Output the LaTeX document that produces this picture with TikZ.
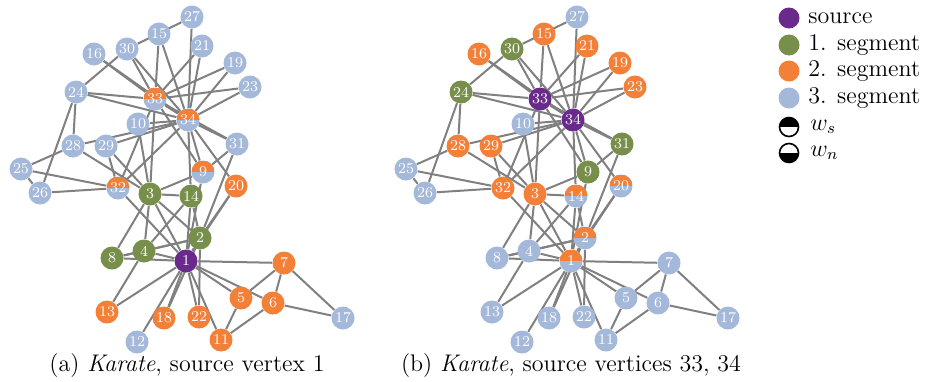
\documentclass[tikz,border=0pt]{standalone}
\usetikzlibrary{backgrounds}
\definecolor{cpurple}{RGB}{106,42,140}
\definecolor{cgreen}{RGB}{120,142,75}
\definecolor{corange}{RGB}{242,128,56}
\definecolor{cblue}{RGB}{164,185,218}
\begin{document}
\begin{tikzpicture}[x=0.5pt,y=-0.5pt,
  vtx/.style={circle,minimum size=11.5pt,inner sep=0pt,text=white,font=\fontsize{7.5}{9}\selectfont},
  src/.style={fill=cpurple},
  sone/.style={fill=cgreen},
  stwo/.style={fill=corange},
  sthree/.style={fill=cblue},
  split/.style={fill=cblue,path picture={\fill[corange] (path picture bounding box.north west) rectangle (path picture bounding box.east);}},
  edge/.style={draw=gray,line width=1pt},
  lgd/.style={circle,minimum size=10.5pt,inner sep=0pt},
  lgdtext/.style={anchor=west,inner sep=0pt,font=\large}]
\useasboundingbox (0,0) rectangle (925,381);
% vertices: number / x / y / style (a) / style (b)
\foreach \n/\x/\y/\sa/\sb in {1/186/261/src/split, 2/200/238/sone/split, 3/150/194/sone/stwo,
  4/144/251/sone/sthree, 5/241/298/stwo/sthree, 6/273/303/stwo/sthree, 7/284/263/stwo/sthree,
  8/112/258/sone/sthree, 9/203/172/split/sone, 10/138/124/sthree/sthree, 11/221/340/stwo/sthree,
  12/137/342/sthree/sthree, 13/107/312/stwo/sthree, 14/191/196/sone/split, 15/159/34/sthree/stwo,
  16/94/54/sthree/stwo, 17/343/318/sthree/sthree, 18/164/318/stwo/sthree, 19/235/63/sthree/stwo,
  20/236/186/stwo/split, 21/202/46/sthree/stwo, 22/199/317/stwo/sthree, 23/250/87/sthree/stwo,
  24/76/92/sthree/sone, 25/21/169/sthree/sthree, 26/40/193/sthree/sthree, 27/192/17/sthree/sthree,
  28/73/146/sthree/stwo, 29/106/146/sthree/stwo, 30/127/49/sthree/sone, 31/237/144/sthree/sone,
  32/118/188/split/stwo, 33/155/99/split/src, 34/188/120/split/src} {
  \node[vtx,\sa] (a\n) at (\x,\y) {\n};
  \node[vtx,\sb] (b\n) at (\x+385,\y) {\n};
}
% edges
\begin{pgfonlayer}{background}
\foreach \g in {a,b} {
  \foreach \u/\v in {1/2,1/3,1/4,1/5,1/6,1/7,1/8,1/9,1/11,1/12,1/13,1/14,1/18,1/20,1/22,1/32,
    2/3,2/4,2/8,2/14,2/18,2/20,2/22,2/31,3/4,3/8,3/9,3/10,3/14,3/28,3/29,3/33,
    4/8,4/13,4/14,5/7,5/11,6/7,6/11,6/17,7/17,9/31,9/33,9/34,
    10/34,14/34,15/33,15/34,16/33,16/34,19/33,19/34,20/34,21/33,21/34,23/33,23/34,
    24/26,24/28,24/30,24/33,24/34,25/26,25/28,25/32,26/32,27/30,27/34,28/34,
    29/32,29/34,30/33,30/34,31/33,31/34,32/33,32/34,33/34}
    \draw[edge] (\g\u) -- (\g\v);
}
\end{pgfonlayer}
% captions
\node[font=\large] (capa) at (187,366) {(a) \textit{Karate}, source vertex 1};
\node[font=\large] (capb) at (571,366) {(b) \textit{Karate}, source vertices 33, 34};
% legend
\node[lgd,src] (lsrc) at (789,18) {};
\node[lgd,sone] (lone) at (789,45) {};
\node[lgd,stwo] (ltwo) at (789,71) {};
\node[lgd,sthree] (lthree) at (789,98) {};
\node[lgd,draw=black,line width=0.8pt,minimum size=9.5pt,fill=white,
  path picture={\fill[black] (path picture bounding box.north west) rectangle (path picture bounding box.east);}] (lws) at (789,127) {};
\node[lgd,draw=black,line width=0.8pt,minimum size=9.5pt,fill=white,
  path picture={\fill[black] (path picture bounding box.south west) rectangle (path picture bounding box.east);}] (lwn) at (789,153) {};
\node[lgdtext] at (808,18) {source};
\node[lgdtext] at (808,45) {1. segment};
\node[lgdtext] at (808,71) {2. segment};
\node[lgdtext] at (808,98) {3. segment};
\node[lgdtext] at (810,127) {$w_s$};
\node[lgdtext] at (810,153) {$w_n$};
\end{tikzpicture}
\end{document}
